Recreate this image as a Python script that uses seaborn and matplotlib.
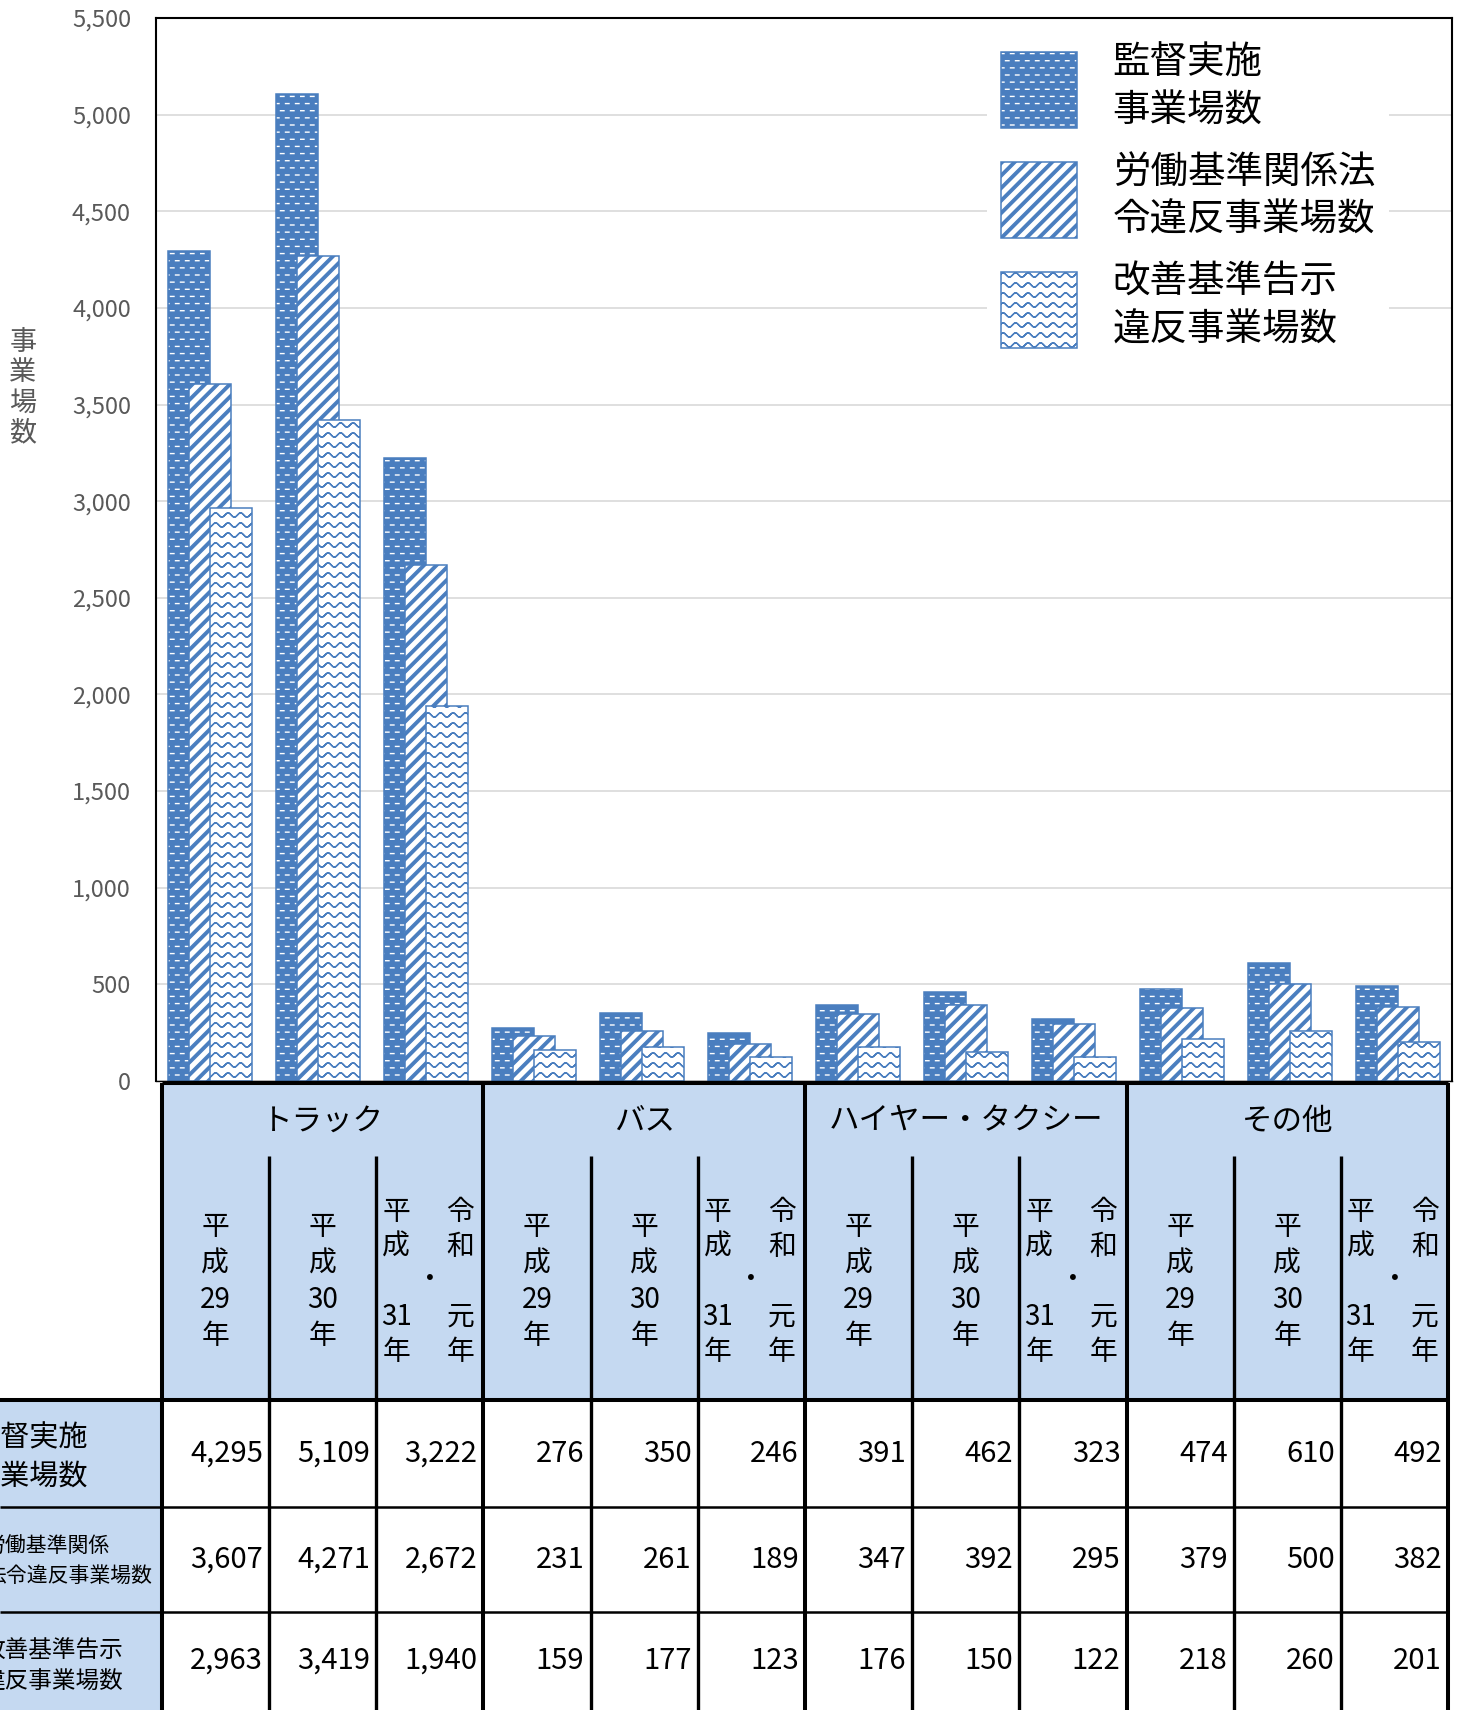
import re
import warnings
import numpy as np
import matplotlib
matplotlib.use('Agg')
import matplotlib.pyplot as plt
import matplotlib.hatch as mhatch
from matplotlib.path import Path
from matplotlib.patches import Patch, Rectangle
import seaborn as sns

warnings.filterwarnings('ignore')

categories = ["トラック", "バス", "ハイヤー・タクシー", "その他"]
years = ["平成29年", "平成30年", "平成31年・令和元年"]
series_names = ["監督実施\n事業場数", "労働基準関係法\n令違反事業場数", "改善基準告示\n違反事業場数"]
row_labels = ["監督実施\n事業場数", "労働基準関係\n法令違反事業場数", "改善基準告示\n違反事業場数"]
inspected = [4295, 5109, 3222, 276, 350, 246, 391, 462, 323, 474, 610, 492]
law_violations = [3607, 4271, 2672, 231, 261, 189, 347, 392, 295, 379, 500, 382]
standard_violations = [2963, 3419, 1940, 159, 177, 123, 176, 150, 122, 218, 260, 201]
y_ticks = list(range(0, 5501, 500))
y_label = "事業場数"

BLUE = '#4a7ebf'
LIGHT = '#c5d9f1'
W, H = 1461, 1710


# ---- Excel-like fill patterns as custom hatches ----
class DashHatch(mhatch.HatchPatternBase):
    rows, cols = 14, 10

    def __init__(self, hatch, density):
        self.num_vertices = self.rows * self.cols * 2 if hatch == 'dash' else 0

    def set_vertices_and_codes(self, vertices, codes):
        k = 0
        for i in range(self.rows):
            y = (i + 0.5) / self.rows
            for j in range(self.cols):
                x = (j + 0.05 + 0.5 * (i % 2)) / self.cols
                vertices[k] = (x, y)
                vertices[k + 1] = (x + 0.035, y)
                codes[k], codes[k + 1] = Path.MOVETO, Path.LINETO
                k += 2


class StripeHatch(mhatch.HatchPatternBase):
    n, w = 8, 0.035

    def __init__(self, hatch, density):
        self.num_vertices = (2 * self.n + 3) * 5 if hatch == 'stripe' else 0

    def set_vertices_and_codes(self, vertices, codes):
        w = self.w
        for k, a in enumerate(np.arange(-self.n - 1, self.n + 2) / self.n):
            vertices[5 * k:5 * k + 5] = [(a - 0.2, -0.2), (a + w - 0.2, -0.2),
                                         (a + w + 1.2, 1.2), (a + 1.2, 1.2), (a - 0.2, -0.2)]
            codes[5 * k:5 * k + 5] = [Path.MOVETO, Path.LINETO, Path.LINETO,
                                      Path.LINETO, Path.CLOSEPOLY]


class WaveHatch(mhatch.HatchPatternBase):
    rows, npts = 10, 65

    def __init__(self, hatch, density):
        self.num_vertices = self.rows * (2 * self.npts - 1) if hatch == 'wave' else 0

    def set_vertices_and_codes(self, vertices, codes):
        xs = np.linspace(0, 1, self.npts)
        px = np.concatenate([xs, xs[-2::-1]])
        m = len(px)
        for i in range(self.rows):
            y0 = (i + 0.5) / self.rows
            vertices[i * m:(i + 1) * m, 0] = px
            vertices[i * m:(i + 1) * m, 1] = y0 + 0.022 * np.sin(2 * np.pi * 8 * px)
            codes[i * m:(i + 1) * m] = Path.LINETO
            codes[i * m] = Path.MOVETO


mhatch._hatch_types.extend([DashHatch, StripeHatch, WaveHatch])

plt.rcParams['font.family'] = ['Noto Sans CJK JP', 'DejaVu Sans']
plt.rcParams['hatch.linewidth'] = 1.0

fig = plt.figure(figsize=(W / 100, H / 100), dpi=100)


def px_rect(left, top, right, bottom):
    return [left / W, 1 - bottom / H, (right - left) / W, (bottom - top) / H]


ax = fig.add_axes(px_rect(156, 18, 1452, 1081))

x = np.arange(len(inspected))
offsets = [-0.197, 0.0, 0.197]
bar_w = 0.39
common = dict(native_scale=True, width=bar_w, saturation=1, errorbar=None, ax=ax, zorder=2)

sns.barplot(x=x + offsets[0], y=inspected, color=BLUE, edgecolor='white',
            linewidth=0, hatch='dash', **common)
sns.barplot(x=x + offsets[0], y=inspected, color=BLUE, facecolor='none',
            edgecolor=BLUE, linewidth=1.1, **common)
sns.barplot(x=x + offsets[1], y=law_violations, color='white', edgecolor=BLUE,
            linewidth=1.1, hatch='stripe', **common)
sns.barplot(x=x + offsets[2], y=standard_violations, color='white', edgecolor=BLUE,
            linewidth=1.1, hatch='wave', **common)

ax.set_xlim(-0.5, len(inspected) - 0.5)
ax.set_xticks([])
ax.set_xlabel('')
ax.set_ylim(0, 5500)
ax.set_yticks(y_ticks)
ax.set_yticklabels([f"{v:,}" for v in y_ticks])
ax.tick_params(axis='y', length=0, pad=18, labelsize=17, labelcolor='#595959')
ax.yaxis.grid(True, color='#d9d9d9', lw=1.2)
ax.set_axisbelow(True)
for side in ['left', 'top', 'right']:
    ax.spines[side].set_color('black')
    ax.spines[side].set_linewidth(1.5)
ax.spines['bottom'].set_linewidth(1.0)

handles = [
    (Patch(facecolor=BLUE, edgecolor='white', linewidth=0, hatch='dash'),
     Patch(facecolor='none', edgecolor=BLUE, linewidth=1.1)),
    Patch(facecolor='white', edgecolor=BLUE, linewidth=1.1, hatch='stripe'),
    Patch(facecolor='white', edgecolor=BLUE, linewidth=1.1, hatch='wave'),
]
leg = ax.legend(handles, series_names, loc='upper left',
                bbox_to_anchor=(968 / W, 1 - 11 / H), bbox_transform=fig.transFigure,
                fontsize=27, handlelength=2.03, handleheight=2.74, handletextpad=0.96,
                labelspacing=0.63, borderpad=0.37, frameon=True, fancybox=False,
                facecolor='white', edgecolor='none', framealpha=1)
for t in leg.get_texts():
    t.set_linespacing(1.27)

# ---- data table under the chart (figure pixel coordinates) ----
tx = fig.add_axes([0, 0, 1, 1])
tx.set_xlim(0, W)
tx.set_ylim(H, 0)
tx.axis('off')

COL0, COLW = 161.7, 107.2
n_cols = len(inspected)
right = COL0 + n_cols * COLW
TOP, CAT_BOTTOM, HEAD_BOTTOM = 1083, 1156, 1400
row_edges = [1400, 1507, 1612, 1710]

tx.add_patch(Rectangle((COL0, TOP), n_cols * COLW, HEAD_BOTTOM - TOP, color=LIGHT, lw=0))
tx.add_patch(Rectangle((0, HEAD_BOTTOM), COL0, H - HEAD_BOTTOM, color=LIGHT, lw=0))

for k in range(n_cols + 1):
    xk = COL0 + k * COLW
    if k % 3 == 0:
        tx.vlines(xk, TOP, H, color='black', lw=2.9)
    else:
        tx.vlines(xk, CAT_BOTTOM, H, color='black', lw=2.4)
tx.hlines(TOP, COL0, right, color='black', lw=2.2)
tx.hlines(HEAD_BOTTOM, 0, right, color='black', lw=2.9)
tx.hlines(row_edges[1:3], 0, right, color='black', lw=1.8)

for c, name in enumerate(categories):
    tx.text(COL0 + (3 * c + 1.5) * COLW, 1121, name, ha='center', va='center', size=22)


def stack(xc, yc, lines, pitch, **kw):
    for i, s in enumerate(lines):
        if s:
            tx.text(xc, yc + (i - (len(lines) - 1) / 2) * pitch, s,
                    ha='center', va='center', **kw)


for j in range(n_cols):
    label = years[j % 3]
    xl = COL0 + j * COLW
    if '・' in label:
        left, right_lbl = label.split('・')
        for xx, part in [(xl + 20, left), (xl + 84, right_lbl)]:
            tokens = re.findall(r'\d+|.', part)
            stack(xx, 1282, tokens[:2] + [''] + tokens[2:], 35, size=20)
        tx.text(xl + COLW / 2, 1280, '・', ha='center', va='center', size=20)
    else:
        stack(xl + COLW / 2, 1281.5, re.findall(r'\d+|.', label), 36.3, size=20)

for r, vals in enumerate([inspected, law_violations, standard_violations]):
    yc = (row_edges[r] + row_edges[r + 1]) / 2
    for j, v in enumerate(vals):
        tx.text(COL0 + (j + 1) * COLW - 6, yc, f"{v:,}", ha='right', va='center', size=21)

# row headers (partly cut off at the left edge, as in the source)
row_style = [(88, 'right', 21, [1438, 1477]),
             (-15, 'left', 15, [1547, 1576]),
             (123, 'right', 17, [1650, 1682])]
for label, (xr, ha, size, ys) in zip(row_labels, row_style):
    for line, yy in zip(label.split('\n'), ys):
        tx.text(xr, yy, line, ha=ha, va='center', size=size)

stack(23, 388, list(y_label), 30, size=19.5, color='#595959')

fig.savefig('out.png', dpi=100)
